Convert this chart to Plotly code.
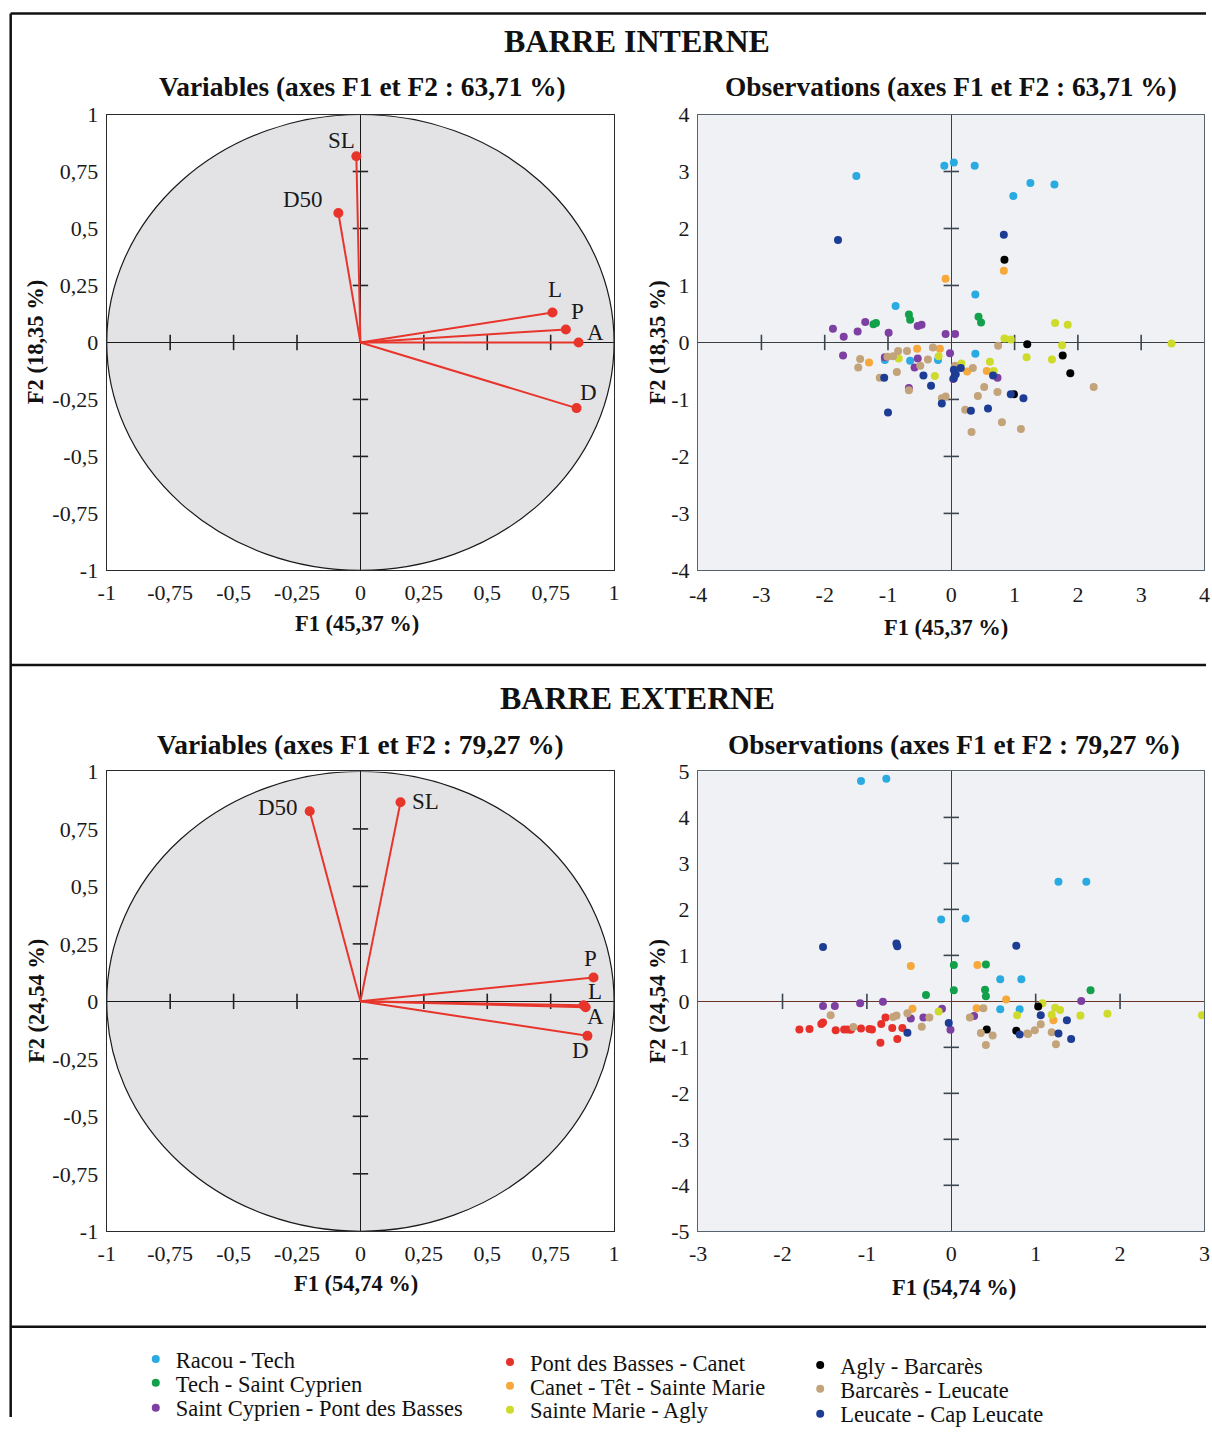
import plotly.graph_objects as go

W, H = 1212, 1436
SERIF = "Liberation Serif, Times New Roman, serif"

# ------------------------------------------------------------------ data
GROUPS = ["Racou - Tech", "Tech - Saint Cyprien", "Saint Cyprien - Pont des Basses",
          "Pont des Basses - Canet", "Canet - Têt - Sainte Marie", "Sainte Marie - Agly",
          "Agly - Barcarès", "Barcarès - Leucate", "Leucate - Cap Leucate"]

# correlation circle : BARRE INTERNE
INT_VAR_NAMES = ["SL", "D50", "L", "P", "A", "D"]
INT_VAR_F1 = [-0.016, -0.087, 0.757, 0.81, 0.86, 0.852]
INT_VAR_F2 = [0.817, 0.568, 0.131, 0.057, 0.0, -0.288]

# correlation circle : BARRE EXTERNE
EXT_VAR_NAMES = ["D50", "SL", "P", "L", "A", "D"]
EXT_VAR_F1 = [-0.20, 0.158, 0.919, 0.88, 0.888, 0.895]
EXT_VAR_F2 = [0.827, 0.866, 0.104, -0.017, -0.026, -0.15]

# observations : BARRE INTERNE
int_racou_f1 = [-1.50, -0.11, 0.04, 0.37, 1.25, 1.63, 0.98, 0.38, -0.88, -1.05, -0.65, -0.21, 0.38]
int_racou_f2 = [2.92, 3.10, 3.16, 3.10, 2.80, 2.77, 2.57, 0.84, 0.64, -0.31, -0.32, -0.31, -0.20]
int_tech_f1 = [-0.67, -0.65, 0.43, 0.47, -1.23, -1.19]
int_tech_f2 = [0.49, 0.40, 0.45, 0.35, 0.32, 0.34]
int_stcyp_f1 = [-1.36, -1.87, -1.48, -1.70, -0.99, -0.53, -0.47, -0.09, 0.06, -0.02, -1.71, -1.05,
                -0.53, -0.58, -0.67, 0.03, 0.73]
int_stcyp_f2 = [0.36, 0.24, 0.19, 0.10, 0.17, 0.29, 0.31, 0.15, 0.15, -0.19, -0.23, -0.26,
                -0.28, -0.44, -0.80, -0.64, -0.62]
int_pdb_f1 = []
int_pdb_f2 = []
int_canet_f1 = [0.83, -0.09, -0.54, -0.18, -1.30, 0.25, 0.56]
int_canet_f2 = [1.26, 1.12, -0.11, -0.11, -0.35, -0.51, -0.50]
int_stmarie_f1 = [0.84, 0.94, 1.64, 1.84, 1.75, 1.19, 1.59, -0.83, -0.20, -0.26, 0.16, 0.61, 0.67, 3.48]
int_stmarie_f2 = [0.07, 0.05, 0.34, 0.31, -0.05, -0.26, -0.30, -0.28, -0.24, -0.59, -0.37, -0.34, -0.50, -0.02]
int_agly_f1 = [0.84, 1.20, 1.76, 1.88, 0.99]
int_agly_f2 = [1.45, -0.03, -0.23, -0.54, -0.91]
int_barc_f1 = [2.25, 0.74, -0.84, -0.70, -0.29, -1.44, -1.47, -1.01, -0.92, -0.37, -0.49, -0.86, -1.13,
               -0.67, 0.06, 0.34, 0.52, 0.73, 0.42, -0.09, -0.15, 0.22, 0.80, 0.32, 1.10]
int_barc_f2 = [-0.78, -0.06, -0.15, -0.15, -0.09, -0.29, -0.44, -0.25, -0.24, -0.30, -0.41, -0.52, -0.62,
               -0.84, -0.41, -0.45, -0.78, -0.87, -0.94, -0.95, -0.98, -1.18, -1.40, -1.57, -1.52]
int_leuc_f1 = [-1.79, 0.83, -1.06, -0.44, -0.32, 0.15, 0.04, 0.07, 0.04, 0.66, 0.94, 1.14, -0.15, -1.00, 0.31, 0.58]
int_leuc_f2 = [1.80, 1.89, -0.62, -0.58, -0.76, -0.45, -0.48, -0.56, -0.63, -0.58, -0.91, -0.98, -1.07, -1.23, -1.20, -1.16]

# observations : BARRE EXTERNE
ext_racou_f1 = [-1.07, -0.77, 1.27, 1.60, -0.12, 0.17, 0.58, 0.83, 0.58, 0.81]
ext_racou_f2 = [4.79, 4.84, 2.60, 2.60, 1.78, 1.80, 0.48, 0.48, -0.17, -0.17]
ext_tech_f1 = [0.03, 0.41, -0.30, 0.03, 0.40, 0.41, 1.65]
ext_tech_f2 = [0.79, 0.80, 0.14, 0.24, 0.25, 0.11, 0.24]
ext_stcyp_f1 = [-1.52, -1.38, -1.08, -0.81, -0.48, -0.33, -0.11, 0.27, -0.01, 1.54]
ext_stcyp_f2 = [-0.10, -0.10, -0.04, -0.01, -0.37, -0.35, -0.16, -0.32, -0.62, 0.01]
ext_pdb_f1 = [-0.78, -1.54, -1.52, -1.80, -1.68, -1.37, -1.27, -1.23, -1.19, -1.07, -0.97, -0.94,
              -0.83, -0.70, -0.58, -0.84, -0.64]
ext_pdb_f2 = [-0.35, -0.49, -0.46, -0.61, -0.60, -0.63, -0.61, -0.61, -0.62, -0.59, -0.60, -0.61,
              -0.49, -0.58, -0.58, -0.90, -0.82]
ext_canet_f1 = [-0.48, 0.31, 0.65, -0.46, 0.30, 1.21]
ext_canet_f2 = [0.77, 0.79, 0.04, -0.16, -0.15, -0.41]
ext_stmarie_f1 = [-0.15, 0.78, 1.08, 1.23, 1.29, 1.19, 1.53, 1.85, 2.97]
ext_stmarie_f2 = [-0.22, -0.30, -0.04, -0.14, -0.19, -0.29, -0.31, -0.27, -0.30]
ext_agly_f1 = [0.42, 0.77, 1.03]
ext_agly_f2 = [-0.61, -0.64, -0.11]
ext_barc_f1 = [-1.43, -0.52, -0.69, -0.65, -0.26, 0.22, -1.16, -0.35, 0.35, 0.49, 0.41, 0.90, 1.06,
               0.99, 0.91, 1.19, 1.24, 0.38]
ext_barc_f2 = [-0.30, -0.26, -0.34, -0.31, -0.35, -0.35, -0.56, -0.55, -0.69, -0.74, -0.95, -0.70, -0.50,
               -0.63, -0.71, -0.67, -0.93, -0.15]
ext_leuc_f1 = [-1.52, -0.65, -0.64, 0.77, -0.52, -0.03, 0.81, 1.06, 1.37, 1.27, 1.42]
ext_leuc_f2 = [1.18, 1.26, 1.20, 1.21, -0.68, -0.47, -0.72, -0.30, -0.41, -0.70, -0.82]

# axis ticks
CIRCLE_TICKS = [-1, -0.75, -0.5, -0.25, 0, 0.25, 0.5, 0.75, 1]
CIRCLE_TICKTEXT = ["-1", "-0,75", "-0,5", "-0,25", "0", "0,25", "0,5", "0,75", "1"]
INT_OBS_TICKS = [-4, -3, -2, -1, 0, 1, 2, 3, 4]
EXT_OBS_XTICKS = [-3, -2, -1, 0, 1, 2, 3]
EXT_OBS_YTICKS = [-5, -4, -3, -2, -1, 0, 1, 2, 3, 4, 5]

# ------------------------------------------------------------------ styles
COLORS = ["#29abe2", "#12a04a", "#7e3fa3", "#e8302a", "#f6a83a", "#cfdb2a", "#000000", "#c3a37a", "#1d3d94"]
VEC_RED = "#e8352b"
# legend slot of each group: (text left x, row centre y) in picture pixels
LEGEND_SLOTS = [(175, 1364), (175, 1388), (175, 1413),
                (529, 1367), (529, 1391), (529, 1415),
                (839, 1370), (839, 1394), (839, 1419)]

INT_OBS = list(zip([int_racou_f1, int_tech_f1, int_stcyp_f1, int_pdb_f1, int_canet_f1, int_stmarie_f1,
                    int_agly_f1, int_barc_f1, int_leuc_f1],
                   [int_racou_f2, int_tech_f2, int_stcyp_f2, int_pdb_f2, int_canet_f2, int_stmarie_f2,
                    int_agly_f2, int_barc_f2, int_leuc_f2]))
EXT_OBS = list(zip([ext_racou_f1, ext_tech_f1, ext_stcyp_f1, ext_pdb_f1, ext_canet_f1, ext_stmarie_f1,
                    ext_agly_f1, ext_barc_f1, ext_leuc_f1],
                   [ext_racou_f2, ext_tech_f2, ext_stcyp_f2, ext_pdb_f2, ext_canet_f2, ext_stmarie_f2,
                    ext_agly_f2, ext_barc_f2, ext_leuc_f2]))

# picture pixel -> page pixel (the photographed page is slightly inset)
SX, OX = 0.987, 8.3
SY, OY = 0.983, 12.0


def px(x):
    return min(1.0, max(0.0, ((x - OX) / SX) / W))


def py(y):
    return min(1.0, max(0.0, 1 - ((y - OY) / SY) / H))


fig = go.Figure()

PANELS = {
    "1": dict(x=(106, 613), y=(115, 573)),   # interne variables
    "2": dict(x=(697, 1203), y=(115, 573)),  # interne observations
    "3": dict(x=(106, 613), y=(775, 1237)),  # externe variables
    "4": dict(x=(697, 1203), y=(775, 1237)), # externe observations
}


def axname(k, a):
    return a + ("" if k == "1" else k)


def tickmarks(k, xt, yt, color):
    xref, yref = axname(k, "x"), axname(k, "y")
    xs = [v for v in xt if v != 0 and v != xt[0] and v != xt[-1]]
    ys = [v for v in yt if v != 0 and v != yt[0] and v != yt[-1]]
    fig.add_trace(go.Scatter(x=xs, y=[0] * len(xs), mode="markers", xaxis=xref, yaxis=yref,
                             marker=dict(symbol="line-ns-open", size=11, color=color,
                                         line=dict(color=color, width=1.6)),
                             showlegend=False, hoverinfo="skip", cliponaxis=False))
    fig.add_trace(go.Scatter(x=[0] * len(ys), y=ys, mode="markers", xaxis=xref, yaxis=yref,
                             marker=dict(symbol="line-ew-open", size=11, color=color,
                                         line=dict(color=color, width=1.6)),
                             showlegend=False, hoverinfo="skip", cliponaxis=False))


def circle_panel(k, names, f1, f2, offsets):
    xref, yref = axname(k, "x"), axname(k, "y")
    fig.add_shape(type="circle", xref=xref, yref=yref, x0=-1, y0=-1, x1=1, y1=1,
                  fillcolor="#e3e3e6", line=dict(color="#1a1a1a", width=1.2), layer="below")
    tickmarks(k, CIRCLE_TICKS, CIRCLE_TICKS, "#222222")
    lx, ly = [], []
    for a, b in zip(f1, f2):
        lx += [0, a, None]
        ly += [0, b, None]
    fig.add_trace(go.Scatter(x=lx, y=ly, mode="lines", xaxis=xref, yaxis=yref,
                             line=dict(color=VEC_RED, width=2), showlegend=False, hoverinfo="skip"))
    fig.add_trace(go.Scatter(x=f1, y=f2, mode="markers", xaxis=xref, yaxis=yref,
                             marker=dict(color=VEC_RED, size=10), showlegend=False, text=names,
                             hoverinfo="text"))
    for n, a, b, (dx, dy) in zip(names, f1, f2, offsets):
        fig.add_annotation(x=a, y=b, xref=xref, yref=yref, text=n, showarrow=False,
                           xshift=dx, yshift=dy, font=dict(family=SERIF, size=23, color="#1a1a1a"))


def legend_key(i):
    return "legend" if i == 0 else "legend%d" % (i + 1)


def obs_panel(k, obs, legend):
    xref, yref = axname(k, "x"), axname(k, "y")
    for i, (f1, f2) in enumerate(obs):
        fig.add_trace(go.Scatter(x=f1, y=f2, mode="markers", xaxis=xref, yaxis=yref, name=GROUPS[i],
                                 marker=dict(color=COLORS[i], size=8),
                                 showlegend=legend, legend=legend_key(i), legendgroup=GROUPS[i]))


# ---- panels
circle_panel("1", INT_VAR_NAMES, INT_VAR_F1, INT_VAR_F2,
             [(-15, 16), (-35, 13), (3, 23), (12, 18), (17, 10), (12, 16)])
tickmarks("2", INT_OBS_TICKS, INT_OBS_TICKS, "#3a4550")
obs_panel("2", INT_OBS, False)
circle_panel("3", EXT_VAR_NAMES, EXT_VAR_F1, EXT_VAR_F2,
             [(-32, 4), (25, 1), (-3, 19), (11, 14), (10, -9), (-7, -15)])
tickmarks("4", EXT_OBS_XTICKS, EXT_OBS_YTICKS, "#3a4550")
obs_panel("4", EXT_OBS, True)

# ---- axes
tickfont = dict(family=SERIF, size=22, color="#1a1a1a")


def set_axes(k, xr, yr, xt, xtt, yt, ytt, bg, border, zx, zy, xstand, ystand):
    p = PANELS[k]
    xa = dict(domain=[px(p["x"][0]), px(p["x"][1])], range=xr, tickvals=xt, ticktext=xtt,
              showgrid=False, zeroline=True, zerolinecolor=zx, zerolinewidth=1.4,
              showline=True, mirror=True, linecolor=border, linewidth=1.4, ticks="",
              tickfont=tickfont, ticklabelstandoff=xstand, fixedrange=True,
              anchor=axname(k, "y"))
    ya = dict(domain=[py(p["y"][1]), py(p["y"][0])], range=yr, tickvals=yt, ticktext=ytt,
              showgrid=False, zeroline=True, zerolinecolor=zy, zerolinewidth=1.4,
              showline=True, mirror=True, linecolor=border, linewidth=1.4, ticks="",
              tickfont=tickfont, ticklabelstandoff=ystand, fixedrange=True,
              anchor=axname(k, "x"))
    key = "" if k == "1" else k
    fig.update_layout({"xaxis" + key: xa, "yaxis" + key: ya})
    fig.add_shape(type="rect", xref=axname(k, "x") + " domain", yref=axname(k, "y") + " domain",
                  x0=0, y0=0, x1=1, y1=1, fillcolor=bg, line=dict(width=0), layer="below")


set_axes("1", [-1, 1], [-1, 1], CIRCLE_TICKS, CIRCLE_TICKTEXT, CIRCLE_TICKS, CIRCLE_TICKTEXT,
         "white", "#2a2a2a", "#1a1a1a", "#1a1a1a", 2, 3)
set_axes("2", [-4, 4], [-4, 4], INT_OBS_TICKS, [str(v) for v in INT_OBS_TICKS],
         INT_OBS_TICKS, [str(v) for v in INT_OBS_TICKS], "#eff1f4", "#56626c", "#3a3f44", "#3a3f44", 4, 3)
set_axes("3", [-1, 1], [-1, 1], CIRCLE_TICKS, CIRCLE_TICKTEXT, CIRCLE_TICKS, CIRCLE_TICKTEXT,
         "white", "#2a2a2a", "#1a1a1a", "#1a1a1a", 2, 3)
set_axes("4", [-3, 3], [-5, 5], EXT_OBS_XTICKS, [str(v) for v in EXT_OBS_XTICKS],
         EXT_OBS_YTICKS, [str(v) for v in EXT_OBS_YTICKS], "#eff1f4", "#56626c", "#3a3f44", "#6a3426", 2, 3)

# background rectangles first, circles above them
shapes = list(fig.layout.shapes)
fig.layout.shapes = [s for s in shapes if s.type == "rect"] + [s for s in shapes if s.type != "rect"]


# ---- texts
def text(xp, yp, s, size, bold=True, angle=0):
    fig.add_annotation(x=px(xp), y=py(yp), xref="paper", yref="paper", showarrow=False,
                       text=("<b>%s</b>" % s) if bold else s, textangle=angle,
                       xanchor="center", yanchor="middle",
                       font=dict(family=SERIF, size=size, color="#111111"))


text(636, 41, "BARRE INTERNE", 32)
text(362, 87, "Variables (axes F1 et F2 : 63,71 %)", 27.4)
text(950, 87, "Observations (axes F1 et F2 : 63,71 %)", 27.4)
text(356, 626, "F1 (45,37 %)", 22.5)
text(945, 630, "F1 (45,37 %)", 22.5)
text(35, 344, "F2 (18,35 %)", 22.5, angle=-90)
text(656, 344, "F2 (18,35 %)", 22.5, angle=-90)

text(636, 701, "BARRE EXTERNE", 32)
text(360, 748, "Variables (axes F1 et F2 : 79,27 %)", 27.4)
text(953, 748, "Observations (axes F1 et F2 : 79,27 %)", 27.4)
text(355, 1289, "F1 (54,74 %)", 22.5)
text(953, 1293, "F1 (54,74 %)", 22.5)
text(36, 1006, "F2 (24,54 %)", 22.5, angle=-90)
text(656, 1006, "F2 (24,54 %)", 22.5, angle=-90)

# ---- frame lines
for yv in (13.5, 668, 1333):
    fig.add_shape(type="line", xref="paper", yref="paper", x0=px(10), x1=1.0, y0=py(yv), y1=py(yv),
                  line=dict(color="#111111", width=2.5))
fig.add_shape(type="line", xref="paper", yref="paper", x0=px(10), x1=px(10), y0=py(13.5), y1=0,
              line=dict(color="#111111", width=2.5))

# ---- legends (one entry per legend box, laid out in three columns)
legfont = dict(family=SERIF, size=22.5, color="#111111")
legends = {}
for i, (tx, ty) in enumerate(LEGEND_SLOTS):
    legends[legend_key(i)] = dict(x=px(tx - 40), y=py(ty - 20), xanchor="left", yanchor="top",
                                  bgcolor="rgba(0,0,0,0)", font=legfont, itemwidth=30,
                                  itemclick=False, itemdoubleclick=False)
fig.update_layout(**legends)

fig.update_layout(width=W, height=H, margin=dict(l=0, r=0, t=0, b=0),
                  paper_bgcolor="white", plot_bgcolor="rgba(0,0,0,0)", showlegend=True)

PAGE_JS = (
    "var d=document.getElementById('{plot_id}');"
    "d.style.position='fixed';d.style.left='0px';d.style.top='0px';"
    "document.documentElement.style.margin='0';document.body.style.margin='0';"
    "document.documentElement.style.overflow='hidden';document.body.style.overflow='hidden';"
)
fig.write_html("out.html", config={"displayModeBar": False}, post_script=PAGE_JS)
